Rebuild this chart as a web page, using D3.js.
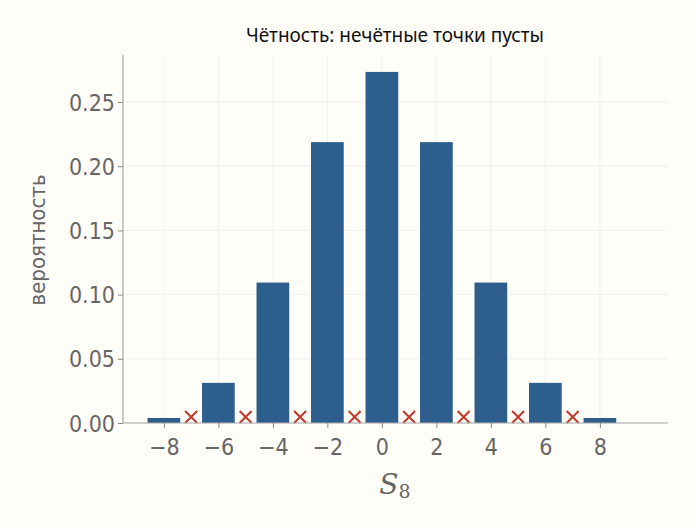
<!DOCTYPE html>
<html><head><meta charset="utf-8">
<script src="https://cdn.jsdelivr.net/npm/d3@7"></script>
<style>body{margin:0;background:#fffdf8}</style></head>
<body><svg id="c" width="694" height="528"></svg>
<script>
const evenK=[-8,-6,-4,-2,0,2,4,6,8];
const probs=[0.00390625,0.03125,0.109375,0.21875,0.2734375,0.21875,0.109375,0.03125,0.00390625];
const oddK=[-7,-5,-3,-1,1,3,5,7];
const xTicks=[-8,-6,-4,-2,0,2,4,6,8];
const yTicks=[0,0.05,0.10,0.15,0.20,0.25];
const svg=d3.select("#c");
svg.append("rect").attr("width",694).attr("height",528).attr("fill","#fffdf8");
const L=123,R=668,T=55,B=423;
const x=d3.scaleLinear().domain([-9.5,10.5]).range([L,R]);
const y=d3.scaleLinear().domain([0,0.2866]).range([B,T]);
const g=svg.append("g");
g.selectAll(".gx").data(xTicks).join("line").attr("x1",d=>x(d)).attr("x2",d=>x(d)).attr("y1",T).attr("y2",B).attr("stroke","#ececec").attr("stroke-width",0.8);
g.selectAll(".gy").data(yTicks).join("line").attr("x1",L).attr("x2",R).attr("y1",d=>y(d)).attr("y2",d=>y(d)).attr("stroke","#ececec").attr("stroke-width",0.8);
const bw=x(1.2)-x(0);
g.selectAll(".bar").data(evenK).join("rect").attr("x",d=>x(d)-bw/2).attr("width",bw)
 .attr("y",(d,i)=>y(probs[i])).attr("height",(d,i)=>B-y(probs[i])).attr("fill","#2e5f8c");
const s=6;
oddK.forEach(k=>{const cx=x(k),cy=y(0)-6;
 g.append("path").attr("d",`M${cx-s},${cy-s}L${cx+s},${cy+s}M${cx-s},${cy+s}L${cx+s},${cy-s}`).attr("stroke","#c0392b").attr("stroke-width",2);});
const font="'DejaVu Sans Condensed','Roboto Condensed','Liberation Sans Narrow',sans-serif";
const xa=svg.append("g").attr("transform",`translate(0,${B})`).call(d3.axisBottom(x).tickValues(xTicks).tickSize(5).tickFormat(d=>d<0?"−"+(-d):d));
const ya=svg.append("g").attr("transform",`translate(${L},0)`).call(d3.axisLeft(y).tickValues(yTicks).tickSize(5).tickFormat(d3.format(".2f")));
[xa,ya].forEach(a=>{a.select(".domain").attr("stroke","#aaa").attr("stroke-width",1.2);a.selectAll(".tick line").attr("stroke","#888");
 a.selectAll("text").attr("fill","#666").style("font-family",font).style("font-size","23px");});
xa.selectAll("text").attr("dy","1.05em");
ya.selectAll("text").attr("dy","0.35em");
ya.select(".domain").attr("d",`M0,${T}V${B}`);
xa.select(".domain").attr("d",`M${L},0H${R}`);
svg.append("text").attr("x",395).attr("y",42).attr("text-anchor","middle").style("font-family","'Noto Sans',sans-serif").style("font-size","19px").attr("fill","#111").text("Чётность: нечётные точки пусты");
svg.append("text").attr("transform","translate(45,240) rotate(-90)").attr("text-anchor","middle").style("font-family",font).style("font-size","22px").attr("fill","#666").text("вероятность");
const xl=svg.append("text").attr("x",395).attr("y",494).attr("text-anchor","middle").style("font-family","'DejaVu Serif',serif").attr("fill","#666");
xl.append("tspan").style("font-style","italic").style("font-size","28px").text("S");
xl.append("tspan").attr("dy",4).style("font-size","19px").text("8");
</script></body></html>
